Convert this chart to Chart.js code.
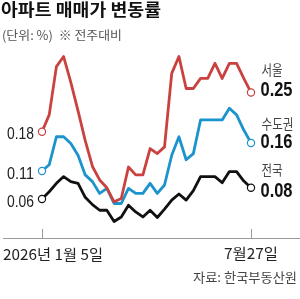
<!DOCTYPE html>
<html>
<head>
<meta charset="utf-8">
<script src="https://cdn.jsdelivr.net/npm/chart.js@4"></script>
<style>
  html, body { margin: 0; padding: 0; background: #fff; }
  #wrap { position: relative; width: 300px; height: 299px; }
</style>
</head>
<body>
<div id="wrap"><canvas id="chart-price"></canvas></div>
<script>
// weekly, 2026-01-05 .. 2026-07-27
const weeks = ['1/5', '1/12', '1/19', '1/26', '2/2', '2/9', '2/16', '2/23', '3/2', '3/9',
    '3/16', '3/23', '3/30', '4/6', '4/13', '4/20', '4/27', '5/4', '5/11', '5/18',
    '5/25', '6/1', '6/8', '6/15', '6/22', '6/29', '7/6', '7/13', '7/20', '7/27'];

const seoul = [0.18, 0.21, 0.296, 0.314, 0.268, 0.217, 0.164, 0.118, 0.094, 0.08,
    0.055, 0.061, 0.117, 0.103, 0.103, 0.15, 0.141, 0.153, 0.284, 0.314,
    0.257, 0.257, 0.275, 0.275, 0.302, 0.275, 0.302, 0.302, 0.275, 0.25];

const capital = [0.11, 0.121, 0.171, 0.171, 0.159, 0.138, 0.103, 0.091, 0.07, 0.079,
    0.052, 0.052, 0.079, 0.07, 0.07, 0.088, 0.07, 0.085, 0.138, 0.171,
    0.13, 0.141, 0.201, 0.201, 0.201, 0.201, 0.222, 0.21, 0.183, 0.16];

const nation = [0.06, 0.073, 0.088, 0.1, 0.091, 0.088, 0.063, 0.05, 0.04, 0.04,
    0.02, 0.028, 0.049, 0.037, 0.028, 0.04, 0.027, 0.042, 0.058, 0.069,
    0.058, 0.075, 0.1, 0.1, 0.1, 0.089, 0.109, 0.109, 0.092, 0.08];

const seriesNames = ['서울', '수도권', '전국'];
const startLabels = ['0.18', '0.11', '0.06'];
const endLabels = ['0.25', '0.16', '0.08'];
const xTickLabels = ['2026년 1월 5일', '7월27일'];

const COLORS = ['#c9423f', '#1b93cc', '#111111'];
const KR = '"Noto Sans CJK KR", "Noto Sans", sans-serif';
const NUM = '"Liberation Sans", Arial, sans-serif';

// draw text squeezed to a given width (the original uses a condensed face)
function fitText(ctx, text, x, y, width, font, color, align) {
    ctx.save();
    ctx.font = font;
    ctx.fillStyle = color;
    ctx.textBaseline = 'middle';
    ctx.textAlign = 'left';
    const w = ctx.measureText(text).width;
    const sx = width / w;
    const left = align === 'right' ? x - width : (align === 'center' ? x - width / 2 : x);
    ctx.translate(left, y);
    ctx.scale(sx, 1);
    ctx.fillText(text, 0, 0);
    ctx.restore();
}

const decorations = {
    id: 'decorations',
    afterDraw(chart) {
        const ctx = chart.ctx;
        const area = chart.chartArea;
        const xs = chart.scales.x;

        // title + unit
        fitText(ctx, '아파트 매매가 변동률', 1, 9.5, 160, 'bold 17px ' + KR, '#111', 'left');
        fitText(ctx, '(단위: %)  ※ 전주대비', 2, 35, 120, '12.5px ' + KR, '#555', 'left');

        // baseline + the two tick marks
        ctx.save();
        ctx.strokeStyle = '#9a9a9a';
        ctx.lineWidth = 1;
        ctx.beginPath();
        ctx.moveTo(3, area.bottom + 0.5);
        ctx.lineTo(300, area.bottom + 0.5);
        [0, weeks.length - 1].forEach(i => {
            const px = Math.round(xs.getPixelForValue(i)) + 0.5;
            ctx.moveTo(px, area.bottom - 9);
            ctx.lineTo(px, area.bottom);
        });
        ctx.stroke();
        ctx.restore();

        const x1 = xs.getPixelForValue(weeks.length - 1);
        fitText(ctx, xTickLabels[0], 3, area.bottom + 16, 100, '15px ' + KR, '#222', 'left');
        fitText(ctx, xTickLabels[1], x1, area.bottom + 15, 54, '15px ' + KR, '#222', 'center');

        // start / end value labels
        const nameW = [21, 32, 21];
        const nameDy = [-23, -19, -18];
        const valDy = [-2, 0, 3.5];
        chart.data.datasets.forEach((ds, k) => {
            const meta = chart.getDatasetMeta(k);
            const first = meta.data[0];
            const last = meta.data[meta.data.length - 1];
            fitText(ctx, startLabels[k], first.x - 8, first.y + 3, 27, '17px ' + NUM, '#222', 'right');
            fitText(ctx, seriesNames[k], last.x + 10.5, last.y + nameDy[k], nameW[k], '13.5px ' + KR, '#444', 'left');
            fitText(ctx, endLabels[k], last.x + 9.5, last.y + valDy[k], 32, 'bold 20px ' + NUM, '#111', 'left');
        });

        fitText(ctx, '자료: 한국부동산원', 297, 277.5, 104, '13px ' + KR, '#444', 'right');
    }
};

function makeSet(label, data, color) {
    const lastIdx = data.length - 1;
    return {
        label: label,
        data: data,
        borderColor: color,
        borderWidth: 2.8,
        tension: 0,
        borderJoinStyle: 'round',
        borderCapStyle: 'round',
        pointRadius: ctx => (ctx.dataIndex === 0 || ctx.dataIndex === lastIdx) ? 3.6 : 0,
        pointBackgroundColor: '#fff',
        pointBorderColor: color,
        pointBorderWidth: 1.2,
        fill: false,
    };
}

new Chart(document.getElementById('chart-price'), {
    type: 'line',
    data: {
        labels: weeks,
        datasets: [
            makeSet(seriesNames[0], seoul, COLORS[0]),
            makeSet(seriesNames[1], capital, COLORS[1]),
            makeSet(seriesNames[2], nation, COLORS[2]),
        ],
    },
    options: {
        responsive: true,
        maintainAspectRatio: false,
        animation: false,
        events: [],
        layout: {
            padding: { left: 42, right: 49, top: 40, bottom: 61 },
        },
        plugins: {
            legend: { display: false },
            tooltip: { enabled: false },
        },
        scales: {
            x: { display: false, offset: false },
            y: { display: false, min: -0.0095, max: 0.3435 },
        },
    },
    plugins: [decorations],
});
</script>
</body>
</html>
